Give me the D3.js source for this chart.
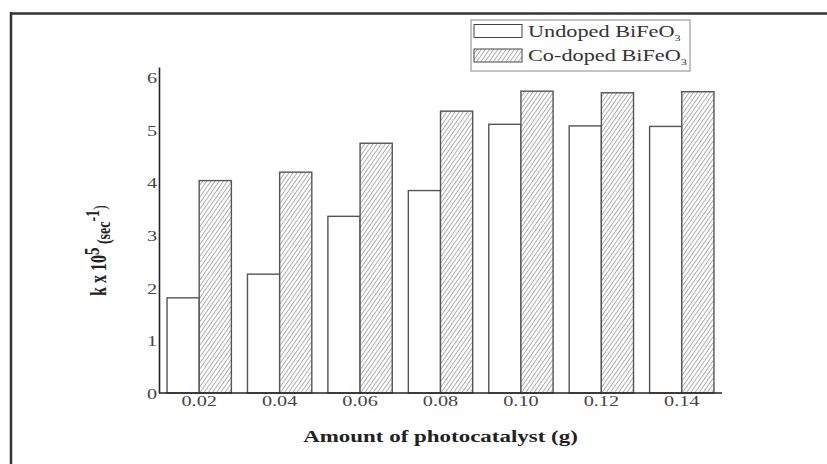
<!DOCTYPE html>
<html>
<head>
<meta charset="utf-8">
<script src="https://cdn.jsdelivr.net/npm/d3@7"></script>
<style>
  body { margin: 0; background: #fff; }
  svg { display: block; }
  svg text { font-family: "Liberation Serif", "DejaVu Serif", serif; }
</style>
</head>
<body>
<div id="chart"></div>
<script>
// amount of photocatalyst (g)
const amounts = ["0.02", "0.04", "0.06", "0.08", "0.10", "0.12", "0.14"];
// rate constant k x 10^5 (sec^-1)
const undoped = [1.81, 2.26, 3.36, 3.85, 5.11, 5.08, 5.07];
const codoped = [4.04, 4.20, 4.75, 5.36, 5.74, 5.71, 5.73];
const seriesNames = ["Undoped", "Co-doped"];
const yTicks = [0, 1, 2, 3, 4, 5, 6];

const W = 827, H = 464;
const stretch = 1.35;   // the original figure is stretched sideways

const svg = d3.select("#chart").append("svg")
    .attr("width", W)
    .attr("height", H);

// hatch for the co-doped bars
const defs = svg.append("defs");
defs.append("pattern")
    .attr("id", "hatch")
    .attr("patternUnits", "userSpaceOnUse")
    .attr("width", 3.4)
    .attr("height", 3.4)
    .attr("patternTransform", "rotate(35)")
    .call(p => {
        p.append("rect").attr("width", 3.4).attr("height", 3.4).attr("fill", "#fff");
        p.append("line")
            .attr("x1", 0.5).attr("y1", 0).attr("x2", 0.5).attr("y2", 3.4)
            .attr("stroke", "#9a9a9a").attr("stroke-width", 0.8);
    });

// frame (only top and left edges are visible)
svg.append("line").attr("x1", 10).attr("x2", W).attr("y1", 13.5).attr("y2", 13.5)
    .attr("stroke", "#333").attr("stroke-width", 2.5);
svg.append("line").attr("x1", 11).attr("x2", 11).attr("y1", 12).attr("y2", H)
    .attr("stroke", "#333").attr("stroke-width", 2.5);

// scales
const x0 = d3.scaleBand()
    .domain(amounts)
    .range([159, 722])
    .paddingInner(0.2)
    .paddingOuter(0.1);

const x1 = d3.scaleBand()
    .domain(seriesNames)
    .range([0, x0.bandwidth()]);

const y = d3.scaleLinear()
    .domain([0, 6.2])
    .range([393, 67]);

// bars
const groups = svg.append("g").selectAll("g")
    .data(amounts)
    .join("g")
    .attr("transform", d => `translate(${x0(d)},0)`);

groups.append("rect")
    .attr("x", x1("Undoped"))
    .attr("y", (d, i) => y(undoped[i]))
    .attr("width", x1.bandwidth())
    .attr("height", (d, i) => y(0) - y(undoped[i]))
    .attr("fill", "#fff")
    .attr("stroke", "#555")
    .attr("stroke-width", 1.4);

groups.append("rect")
    .attr("x", x1("Co-doped"))
    .attr("y", (d, i) => y(codoped[i]))
    .attr("width", x1.bandwidth())
    .attr("height", (d, i) => y(0) - y(codoped[i]))
    .attr("fill", "url(#hatch)")
    .attr("stroke", "#555")
    .attr("stroke-width", 1.4);

// axes
const yAxis = svg.append("g")
    .attr("transform", "translate(159,0)")
    .call(d3.axisLeft(y).tickValues(yTicks).tickSize(0).tickPadding(0).tickFormat(d3.format("d")));
yAxis.attr("font-family", null);
yAxis.select(".domain").attr("stroke", "#222").attr("stroke-width", 1.6);
yAxis.selectAll(".tick text").remove();
yAxis.selectAll(".tick").append("g")
    .attr("transform", `translate(-2,0) scale(${stretch},1)`)
    .append("text")
    .attr("text-anchor", "end")
    .attr("dy", "0.35em")
    .attr("fill", "#444")
    .style("font-size", "15px")
    .text(d => d);

const xAxis = svg.append("g")
    .attr("transform", "translate(0,393)")
    .call(d3.axisBottom(x0).tickSize(0).tickPadding(0));
xAxis.attr("font-family", null);
xAxis.select(".domain").attr("d", "M159,0H722").attr("stroke", "#222").attr("stroke-width", 1.6);
xAxis.selectAll(".tick text").remove();
xAxis.selectAll(".tick").append("g")
    .attr("transform", `translate(0,13) scale(${stretch},1)`)
    .append("text")
    .attr("text-anchor", "middle")
    .attr("fill", "#444")
    .style("font-size", "15px")
    .text(d => d);

// axis titles
svg.append("g")
    .attr("transform", `translate(440.5,442) scale(${stretch},1)`)
    .append("text")
    .attr("text-anchor", "middle")
    .attr("fill", "#222")
    .style("font-size", "17px")
    .style("font-weight", "bold")
    .text("Amount of photocatalyst (g)");

const yTitle = svg.append("g")
    .attr("transform", "translate(106,296) rotate(-90) scale(1,1.4)")
    .append("text")
    .attr("fill", "#222")
    .style("font-weight", "bold")
    .style("font-size", "16px");
yTitle.append("tspan").text("k x 10");
yTitle.append("tspan").attr("dy", -5).style("font-size", "15px").text("5");
yTitle.append("tspan").attr("dy", 8).style("font-size", "14px").text(" (sec");
yTitle.append("tspan").attr("dy", -8).style("font-size", "14px").text("-1");
yTitle.append("tspan").attr("dy", 5).style("font-size", "14px").style("font-weight", "normal").text(")");

// legend
const legend = svg.append("g");
legend.append("rect")
    .attr("x", 471).attr("y", 20).attr("width", 219).attr("height", 51)
    .attr("fill", "#fff").attr("stroke", "#888").attr("stroke-width", 1);

const legendFills = ["#fff", "url(#hatch)"];
const legendRows = legend.selectAll("g.row")
    .data(seriesNames)
    .join("g")
    .attr("class", "row")
    .attr("transform", (d, i) => `translate(0,${i * 24.5})`);

legendRows.append("rect")
    .attr("x", 474).attr("y", 24.5).attr("width", 48).attr("height", 13)
    .attr("fill", (d, i) => legendFills[i])
    .attr("stroke", "#444").attr("stroke-width", 1);

const legendText = legendRows.append("g")
    .attr("transform", `translate(528,36.5) scale(${stretch},1)`)
    .append("text")
    .attr("fill", "#333")
    .style("font-size", "16.5px");
legendText.append("tspan").text(d => d + " BiFeO");
legendText.append("tspan").attr("dy", 4).style("font-size", "9px").text("3");
</script>
</body>
</html>
